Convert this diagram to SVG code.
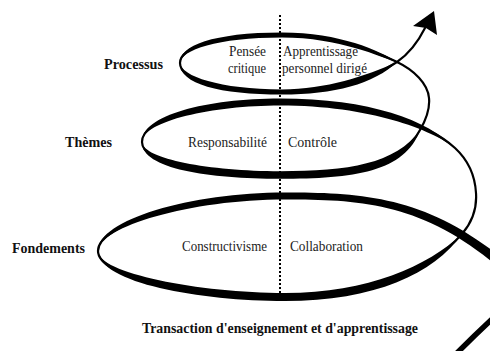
<svg xmlns="http://www.w3.org/2000/svg" width="490" height="351" viewBox="0 0 490 351">
  <style>
    .lbl { font-family: "Liberation Serif", "Times New Roman", serif; font-weight: bold; font-size: 15px; fill: #111; }
    .txt { font-family: "Liberation Serif", "Times New Roman", serif; font-size: 15px; fill: #222; }
    .end { text-anchor: end; }
    .core { fill: none; stroke: #000; stroke-width: 2.2; stroke-linecap: round; stroke-linejoin: round; }
    .band { fill: #000; stroke: none; }
    .divider { stroke: #000; stroke-width: 2; stroke-dasharray: 2 2; fill: none; }
  </style>
  <rect width="490" height="351" fill="#fff"/>

  <!-- vertical divider through the three levels -->
  <g id="divider">
    <line class="divider" x1="280" y1="15" x2="280" y2="296"/>
  </g>

  <!-- the rising spiral: one continuous centreline plus thickened front/back arcs -->
  <g id="spiral">
    <path class="core" d="M530,290 C440,200 370,196 285,196 C190,196 98,224 98,251
      C98,278 200,297 285,297 C370,297 430,270 462,234
      C474,220 477,207 476,193 C475,175 468,160 455,148
      C430,125 370,102 280,102 C210,102 142,118 142,142
      C142,164 210,175 280,175 C350,175 400,168 420,130
      C427,118 430,108 429,98 C428,84 414,70 397,62
      C380,54 340,35 282,35 C215,35 180,48 180,63
      C180,80 220,92 282,92 C330,92 370,80 397,62
      C410,53 418,42 425,28"/>
    <!-- lower turn -->
    <path class="band" d="M98,251 C97,220 190,192.4 285,192.4 C370,192.4 443,196.5 533,286.5
      L527,293.5 C437,203.5 370,199.6 285,199.6 C190,199.6 99,227 98,251 Z"/>
    <path class="band" d="M98,251 C99,283 200,301 285,301 C374,301 434,274 462,234
      C428,266 368,293 285,293 C200,293 97,273 98,251 Z"/>
    <!-- middle turn -->
    <path class="band" d="M455,148 C428,120 370,98.4 280,98.4 C207,98.4 141,115 142,142
      C143,121 213,105.6 280,105.6 C370,105.6 432,130 455,148 Z"/>
    <path class="band" d="M142,142 C141,169 210,178.8 280,178.8 C354,178.8 405,172 420,130
      C396,164 348,171.2 280,171.2 C210,171.2 143,159 142,142 Z"/>
    <!-- upper turn -->
    <path class="band" d="M397,62 C380,51 340,32.6 282,32.6 C213,32.6 179,46 180,63
      C181,50 217,37.4 282,37.4 C340,37.4 380,57 397,62 Z"/>
    <path class="band" d="M180,63 C179,84 220,94.6 282,94.6 C334,94.6 374,84 397,62
      C366,76 326,89.4 282,89.4 C220,89.4 181,76 180,63 Z"/>
    <!-- entry stroke at the bottom right -->
    <path d="M502,310 Q480,330 456,354" fill="none" stroke="#000" stroke-width="5.5"/>
    <!-- arrowhead at the top -->
    <polygon points="434,11 437,35 426,28 413,26" fill="#000"/>
  </g>

  <g id="level-processus">
    <text class="lbl" x="104" y="69" textLength="59" lengthAdjust="spacingAndGlyphs">Processus</text>
    <text class="txt end" x="266" y="56" textLength="37" lengthAdjust="spacingAndGlyphs">Pensée</text>
    <text class="txt end" x="266" y="73" textLength="38" lengthAdjust="spacingAndGlyphs">critique</text>
    <text class="txt" x="283" y="56" textLength="75" lengthAdjust="spacingAndGlyphs">Apprentissage</text>
    <text class="txt" x="282" y="73" textLength="85" lengthAdjust="spacingAndGlyphs">personnel dirigé</text>
  </g>

  <g id="level-themes">
    <text class="lbl" x="65" y="147" textLength="47" lengthAdjust="spacingAndGlyphs">Thèmes</text>
    <text class="txt end" x="267" y="147" textLength="79" lengthAdjust="spacingAndGlyphs">Responsabilité</text>
    <text class="txt" x="288" y="147" textLength="49" lengthAdjust="spacingAndGlyphs">Contrôle</text>
  </g>

  <g id="level-fondements">
    <text class="lbl" x="12" y="253" textLength="73" lengthAdjust="spacingAndGlyphs">Fondements</text>
    <text class="txt end" x="267" y="251" textLength="85" lengthAdjust="spacingAndGlyphs">Constructivisme</text>
    <text class="txt" x="290" y="251" textLength="73" lengthAdjust="spacingAndGlyphs">Collaboration</text>
  </g>

  <g id="caption">
    <text class="lbl" x="142" y="333" textLength="276" lengthAdjust="spacingAndGlyphs">Transaction d'enseignement et d'apprentissage</text>
  </g>
</svg>
